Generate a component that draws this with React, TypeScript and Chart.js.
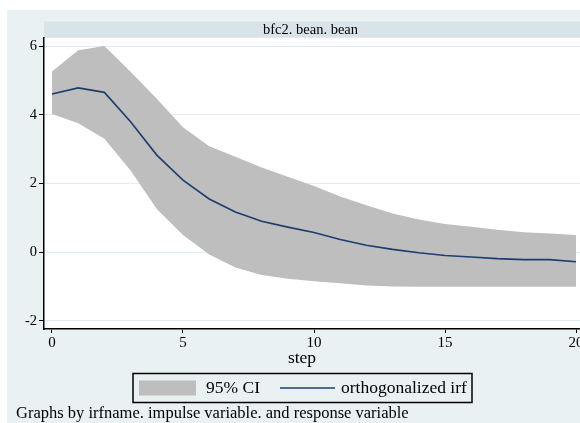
import React, { useEffect, useRef } from "react";
import { Chart, registerables } from "chart.js";

Chart.register(...registerables);

// ---- data ----
const steps = [0, 1, 2, 3, 4, 5, 6, 7, 8, 9, 10, 11, 12, 13, 14, 15, 16, 17, 18, 19, 20];
const irf = [4.61, 4.79, 4.66, 3.8, 2.83, 2.1, 1.55, 1.17, 0.9, 0.73, 0.57, 0.37, 0.2, 0.08, -0.02, -0.1, -0.14, -0.19, -0.22, -0.22, -0.28];
const ciUpper = [5.27, 5.89, 6.01, 5.26, 4.47, 3.64, 3.09, 2.78, 2.47, 2.2, 1.93, 1.62, 1.37, 1.13, 0.95, 0.82, 0.74, 0.65, 0.58, 0.54, 0.5];
const ciLower = [4.03, 3.76, 3.31, 2.38, 1.26, 0.5, -0.07, -0.45, -0.67, -0.78, -0.85, -0.91, -0.97, -1.0, -1.01, -1.01, -1.01, -1.01, -1.01, -1.01, -1.01];
const xTickValues = [0, 5, 10, 15, 20];
const yTickValues = [-2, 0, 2, 4, 6];
const panelTitle = "bfc2. bean. bean";
const xTitle = "step";
const legendLabels = ["95% CI", "orthogonalized irf"];
const noteText = "Graphs by irfname. impulse variable. and response variable";

const FONT = '"Liberation Serif", "Times New Roman", serif';
const BAND = "#bebebe";
const LINE = "#1d3c70";
const OUTER = "#e9f1f3";
const STRIP = "#d8e4ea";
const GRID = "#e2ecf2";

const decor = {
  id: "decor",
  beforeDraw(chart: any) {
    const { ctx, chartArea: a, width, height } = chart;
    ctx.save();
    ctx.fillStyle = "#ffffff";
    ctx.fillRect(0, 0, width, height);
    ctx.fillStyle = OUTER;
    ctx.fillRect(7, 10, width - 7, height - 10);
    ctx.fillStyle = STRIP;
    ctx.fillRect(a.left, 21.5, width - a.left, 16);
    ctx.fillStyle = "#ffffff";
    ctx.fillRect(a.left, a.top, a.right - a.left, a.bottom - a.top);
    ctx.restore();
  },
  afterDraw(chart: any) {
    const { ctx } = chart;
    ctx.save();
    ctx.fillStyle = "#000";
    // panel title
    ctx.font = `14.5px ${FONT}`;
    ctx.textAlign = "center";
    ctx.textBaseline = "middle";
    ctx.fillText(panelTitle, 310.5, 29.8);
    // x title
    ctx.font = `17.5px ${FONT}`;
    ctx.textBaseline = "alphabetic";
    ctx.fillText(xTitle, 302, 362.5);
    // legend box
    ctx.lineWidth = 1.5;
    ctx.strokeStyle = "#000";
    ctx.strokeRect(133, 373.5, 339, 29);
    ctx.fillStyle = BAND;
    ctx.fillRect(139, 380.5, 57, 15);
    ctx.fillStyle = "#000";
    ctx.font = `17.5px ${FONT}`;
    ctx.textAlign = "left";
    ctx.textBaseline = "middle";
    ctx.fillText(legendLabels[0], 206, 388.5);
    ctx.strokeStyle = LINE;
    ctx.lineWidth = 1.6;
    ctx.beginPath();
    ctx.moveTo(280, 388);
    ctx.lineTo(335, 388);
    ctx.stroke();
    ctx.fillText(legendLabels[1], 341, 388.5);
    // note
    ctx.font = `16.5px ${FONT}`;
    ctx.textBaseline = "alphabetic";
    ctx.fillText(noteText, 16, 418);
    ctx.restore();
  },
};

export default function App() {
  const canvasRef = useRef<HTMLCanvasElement | null>(null);

  useEffect(() => {
    const canvas = canvasRef.current;
    if (!canvas) return;
    const chart = new Chart(canvas, {
      type: "line",
      data: {
        datasets: [
          {
            label: legendLabels[1],
            data: steps.map((s, i) => ({ x: s, y: irf[i] })),
            borderColor: LINE,
            borderWidth: 1.6,
            pointRadius: 0,
            tension: 0,
            fill: false,
          },
          {
            label: "upper",
            data: steps.map((s, i) => ({ x: s, y: ciUpper[i] })),
            borderColor: "transparent",
            borderWidth: 0,
            backgroundColor: BAND,
            pointRadius: 0,
            tension: 0,
            fill: "+1",
          },
          {
            label: "lower",
            data: steps.map((s, i) => ({ x: s, y: ciLower[i] })),
            borderColor: "transparent",
            borderWidth: 0,
            pointRadius: 0,
            tension: 0,
            fill: false,
          },
        ],
      },
      options: {
        responsive: false,
        animation: false,
        devicePixelRatio: 1,
        layout: { padding: { top: 38, right: 16, bottom: 64, left: 0 } },
        plugins: {
          legend: { display: false },
          title: { display: false },
          tooltip: { enabled: false },
        },
        scales: {
          x: {
            type: "linear",
            min: -0.305,
            max: 20.305,
            afterBuildTicks: (s: any) => {
              s.ticks = xTickValues.map((v) => ({ value: v }));
            },
            afterFit: (s: any) => {
              s.height = 30;
            },
            grid: { drawOnChartArea: false, tickLength: 4, tickColor: "#000", tickWidth: 1 },
            border: { color: "#000", width: 1.5 },
            ticks: {
              padding: 1,
              color: "#000",
              font: { family: FONT, size: 15 },
              maxRotation: 0,
              autoSkip: false,
              callback: (v: any) => String(v),
            },
          },
          y: {
            type: "linear",
            min: -2.242,
            max: 6.245,
            afterBuildTicks: (s: any) => {
              s.ticks = yTickValues.map((v) => ({ value: v }));
            },
            afterFit: (s: any) => {
              s.width = 44;
            },
            grid: { color: GRID, lineWidth: 1, tickLength: 5, tickColor: "#000", tickWidth: 1 },
            border: { color: "#000", width: 1.5 },
            ticks: {
              padding: 2,
              color: "#000",
              font: { family: FONT, size: 14.5 },
              autoSkip: false,
              callback: (v: any) => String(v),
            },
          },
        },
      },
      plugins: [decor],
    } as any);
    return () => chart.destroy();
  }, []);

  return (
    <div style={{ position: "absolute", left: 0, top: 0, width: 580, height: 423, overflow: "hidden", background: "#fff" }}>
      <canvas ref={canvasRef} width={600} height={423} style={{ display: "block", width: 600, height: 423 }} />
    </div>
  );
}
